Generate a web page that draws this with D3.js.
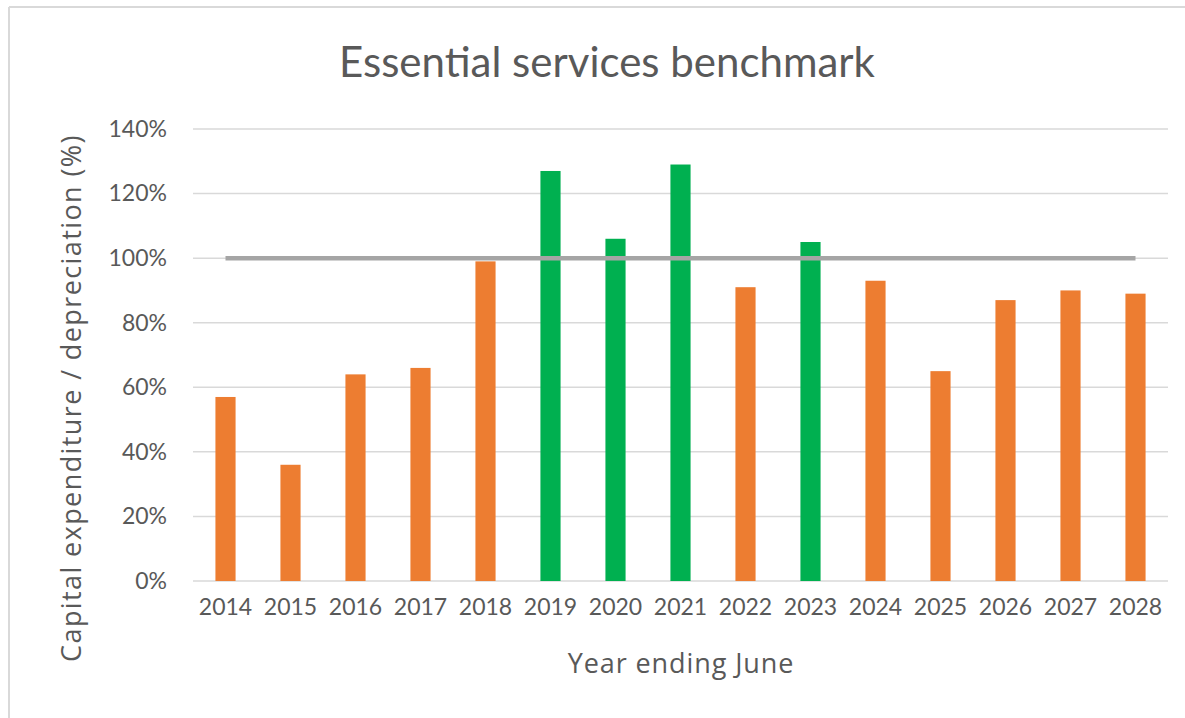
<!DOCTYPE html>
<html>
<head>
<meta charset="utf-8">
<script src="https://cdn.jsdelivr.net/npm/d3@7"></script>
<style>
  html, body { margin: 0; padding: 0; background: #fff; }
  svg text { font-family: Lato, "Open Sans", sans-serif; fill: #595959; }
</style>
</head>
<body>
<svg id="chart" width="1185" height="718"></svg>
<script>
// Capital expenditure as a share of depreciation, by financial year
const years = ["2014","2015","2016","2017","2018","2019","2020","2021","2022","2023","2024","2025","2026","2027","2028"];
const ratios = [57, 36, 64, 66, 99, 127, 106, 129, 91, 105, 93, 65, 87, 90, 89];
const yTicks = [0, 20, 40, 60, 80, 100, 120, 140];
const benchmark = 100;

const colorBelow = "#ED7D31";
const colorAbove = "#00B050";

const svg = d3.select("#chart");
const W = 1185, H = 718;

// frame
svg.append("line").attr("x1", 9).attr("x2", W).attr("y1", 7).attr("y2", 7)
  .attr("stroke", "#d9d9d9").attr("stroke-width", 2);
svg.append("line").attr("x1", 9).attr("x2", 9).attr("y1", 7).attr("y2", H)
  .attr("stroke", "#d9d9d9").attr("stroke-width", 2);

const plotLeft = 193, plotRight = 1168, plotTop = 129, plotBottom = 581;

const x = d3.scaleBand().domain(years).range([plotLeft, plotRight]).paddingInner(0.69).paddingOuter(0.345);
const y = d3.scaleLinear().domain([0, 140]).range([plotBottom, plotTop]);

// gridlines
svg.append("g").selectAll("line").data(yTicks).join("line")
  .attr("x1", plotLeft).attr("x2", plotRight)
  .attr("y1", d => y(d)).attr("y2", d => y(d))
  .attr("stroke", "#d9d9d9").attr("stroke-width", 1.5);

// y axis labels
const yAxis = d3.axisLeft(y).tickValues(yTicks).tickFormat(d => d + "%").tickSize(0).tickPadding(0);
const gy = svg.append("g").attr("transform", `translate(${plotLeft - 26},0)`).call(yAxis);
gy.select(".domain").remove();
gy.selectAll("text").attr("font-size", 23).attr("fill", "#595959")
  .style("font-family", "Lato, 'Open Sans', sans-serif");

// x axis labels
const xAxis = d3.axisBottom(x).tickSize(0).tickPadding(0);
const gx = svg.append("g").attr("transform", `translate(0,${plotBottom + 18})`).call(xAxis);
gx.select(".domain").remove();
gx.selectAll("text").attr("font-size", 23).attr("fill", "#595959")
  .style("font-family", "Lato, 'Open Sans', sans-serif");

// bars
svg.append("g").selectAll("rect").data(years).join("rect")
  .attr("x", d => x(d))
  .attr("width", x.bandwidth())
  .attr("y", (d, i) => y(ratios[i]))
  .attr("height", (d, i) => y(0) - y(ratios[i]))
  .attr("fill", (d, i) => ratios[i] > benchmark ? colorAbove : colorBelow);

// benchmark line
svg.append("line")
  .attr("x1", x(years[0]) + x.bandwidth() / 2)
  .attr("x2", x(years[years.length - 1]) + x.bandwidth() / 2)
  .attr("y1", y(benchmark)).attr("y2", y(benchmark))
  .attr("stroke", "#a5a5a5").attr("stroke-width", 4.5);

// title
svg.append("text").attr("x", 607).attr("y", 77).attr("text-anchor", "middle")
  .attr("font-size", 42).text("Essential services benchmark");

// axis titles
svg.append("text").attr("x", 681).attr("y", 673).attr("text-anchor", "middle")
  .attr("font-size", 27).style("font-family", "'Open Sans', sans-serif")
  .style("letter-spacing", "0.9px")
  .text("Year ending June");

svg.append("text").attr("transform", "translate(81,398) rotate(-90)")
  .attr("text-anchor", "middle").attr("font-size", 27)
  .style("font-family", "'Open Sans', sans-serif")
  .style("letter-spacing", "1.4px")
  .text("Capital expenditure / depreciation (%)");
</script>
</body>
</html>
